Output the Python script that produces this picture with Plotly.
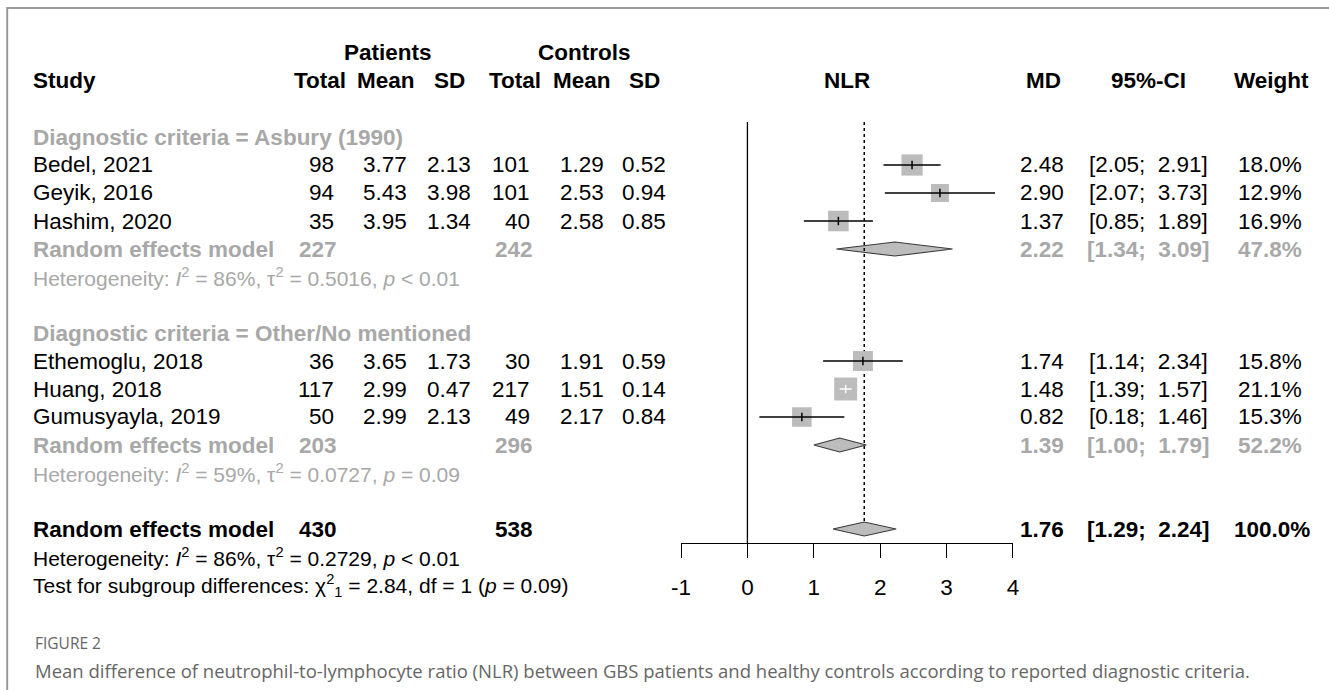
import math
import plotly.graph_objects as go

# ---------------- data ----------------
studies = ["Bedel, 2021", "Geyik, 2016", "Hashim, 2020",
           "Ethemoglu, 2018", "Huang, 2018", "Gumusyayla, 2019"]
study_group = [0, 0, 0, 1, 1, 1]
p_total = [98, 94, 35, 36, 117, 50]
p_mean = [3.77, 5.43, 3.95, 3.65, 2.99, 2.99]
p_sd = [2.13, 3.98, 1.34, 1.73, 0.47, 2.13]
c_total = [101, 101, 40, 30, 217, 49]
c_mean = [1.29, 2.53, 2.58, 1.91, 1.51, 2.17]
c_sd = [0.52, 0.94, 0.85, 0.59, 0.14, 0.84]
md = [2.48, 2.90, 1.37, 1.74, 1.48, 0.82]
ci_low = [2.05, 2.07, 0.85, 1.14, 1.39, 0.18]
ci_high = [2.91, 3.73, 1.89, 2.34, 1.57, 1.46]
weight = [18.0, 12.9, 16.9, 15.8, 21.1, 15.3]

sub_names = ["Asbury (1990)", "Other/No mentioned"]
sub_p_total = [227, 203]
sub_c_total = [242, 296]
sub_md = [2.22, 1.39]
sub_low = [1.34, 1.00]
sub_high = [3.09, 1.79]
sub_weight = [47.8, 52.2]
sub_i2 = [86, 59]
sub_tau2 = ["0.5016", "0.0727"]
sub_p = ["&lt; 0.01", "= 0.09"]

overall_p_total = 430
overall_c_total = 538
overall_md = 1.76
overall_low = 1.29
overall_high = 2.24
overall_weight = 100.0
overall_i2 = 86
overall_tau2 = "0.2729"
overall_p = "&lt; 0.01"
test_chi2 = 2.84
test_df = 1
test_p = "0.09"

tick_vals = [-1, 0, 1, 2, 3, 4]
tick_text = ["-1", "0", "1", "2", "3", "4"]
null_value = 0

# ---------------- layout constants (page pixels) ----------------
W, H = 1329, 690
SX = 1.015                    # horizontal spread correction about the page centre
ROW0, ROWH = 137, 28          # pixel centre of first row, row height
AXIS_Y = 543                  # pixel y of the x axis line
AX_L, AX_R = 679, 1010        # pixel x of -1 and 4
FONT = "Liberation Sans, Arial, Helvetica, sans-serif"
FS = 22.5
GRAY = "#a8a8a8"
BLACK = "#000000"
SQ_COLOR = "#bcbcbc"

col = dict(study=31, pt=335, pm=408, psd=472, ct=530, cm=604, csd=666,
           md=1063, ci=1145, w=1300)
hdr = dict(pt=347, pm=416, psd=466, ct=541, cm=611, csd=660,
           md=1060, ci=1145, w=1307)

y_top = -ROW0 / ROWH
y_bot = (AXIS_Y - ROW0) / ROWH

fig = go.Figure()
ann = []


def pxx(x):
    return (W / 2 + (x - W / 2) * SX) / W


def pxy(y):
    return 1 - y / H


def rowy(k):
    return pxy(ROW0 + ROWH * k)


def text(xp, k, s, anchor="right", color=BLACK, bold=False, size=FS):
    if bold:
        s = "<b>" + s + "</b>"
    ann.append(dict(x=pxx(xp), xref="paper", y=rowy(k), yref="paper", text=s,
                    xanchor=anchor, yanchor="middle", showarrow=False,
                    font=dict(family=FONT, size=size, color=color)))


def ci_str(lo, hi):
    return "[%.2f;&nbsp; %.2f]" % (lo, hi)


# headers
text((hdr["pt"] + hdr["psd"]) / 2 - 20, -3, "Patients", "center", bold=True)
text((hdr["ct"] + hdr["csd"]) / 2 - 18, -3, "Controls", "center", bold=True)
text(col["study"], -2, "Study", "left", bold=True)
for key, lab in [("pt", "Total"), ("pm", "Mean"), ("psd", "SD"),
                 ("ct", "Total"), ("cm", "Mean"), ("csd", "SD"),
                 ("md", "MD"), ("w", "Weight")]:
    text(hdr[key], -2, lab, "right", bold=True)
text(hdr["ci"], -2, "95%-CI", "center", bold=True)
ann.append(dict(x=1.5, xref="x", y=rowy(-2), yref="paper", text="<b>NLR</b>",
                xanchor="center", yanchor="middle", showarrow=False,
                font=dict(family=FONT, size=FS, color=BLACK)))

# rows
row_of_study = []
k = 0
for g in range(len(sub_names)):
    text(col["study"], k, "Diagnostic criteria = " + sub_names[g], "left", GRAY, True)
    k += 1
    for i in range(len(studies)):
        if study_group[i] != g:
            continue
        row_of_study.append((i, k))
        text(col["study"], k, studies[i], "left")
        text(col["pt"], k, str(p_total[i]))
        text(col["pm"], k, "%.2f" % p_mean[i])
        text(col["psd"], k, "%.2f" % p_sd[i])
        text(col["ct"], k, str(c_total[i]))
        text(col["cm"], k, "%.2f" % c_mean[i])
        text(col["csd"], k, "%.2f" % c_sd[i])
        text(col["md"], k, "%.2f" % md[i])
        text(col["ci"], k, ci_str(ci_low[i], ci_high[i]), "center")
        text(col["w"], k, "%.1f%%" % weight[i])
        k += 1
    # subgroup summary
    text(col["study"], k, "Random effects model", "left", GRAY, True)
    text(col["pt"] + 3, k, str(sub_p_total[g]), "right", GRAY, True)
    text(col["ct"] + 3, k, str(sub_c_total[g]), "right", GRAY, True)
    text(col["md"], k, "%.2f" % sub_md[g], "right", GRAY, True)
    text(col["ci"], k, ci_str(sub_low[g], sub_high[g]), "center", GRAY, True)
    text(col["w"], k, "%.1f%%" % sub_weight[g], "right", GRAY, True)
    fig.add_trace(go.Scatter(
        x=[sub_low[g], sub_md[g], sub_high[g], sub_md[g], sub_low[g]],
        y=[k, k - 0.25, k, k + 0.25, k], mode="lines", fill="toself",
        fillcolor=SQ_COLOR, line=dict(color="#3a3a3a", width=1.2),
        hoverinfo="skip", showlegend=False))
    k += 1
    text(col["study"], k,
         "Heterogeneity: <i>I</i><sup>2</sup> = %d%%, τ<sup>2</sup> = %s, <i>p</i> %s"
         % (sub_i2[g], sub_tau2[g], sub_p[g]), "left", GRAY, size=21)
    k += 2

# overall
k_overall = k
text(col["study"], k, "Random effects model", "left", BLACK, True)
text(col["pt"] + 3, k, str(overall_p_total), "right", BLACK, True)
text(col["ct"] + 3, k, str(overall_c_total), "right", BLACK, True)
text(col["md"], k, "%.2f" % overall_md, "right", BLACK, True)
text(col["ci"], k, ci_str(overall_low, overall_high), "center", BLACK, True)
text(col["w"] + 8, k, "%.1f%%" % overall_weight, "right", BLACK, True)
text(col["study"], k + 1,
     "Heterogeneity: <i>I</i><sup>2</sup> = %d%%, τ<sup>2</sup> = %s, <i>p</i> %s"
     % (overall_i2, overall_tau2, overall_p), "left", BLACK, size=21)
text(col["study"], k + 2,
     "Test for subgroup differences: χ<sup>2</sup><sub>%d</sub> = %.2f, df = %d (<i>p</i> = %s)"
     % (test_df, test_chi2, test_df, test_p), "left", BLACK, size=21)

# reference lines
top_k = (122 - ROW0) / ROWH
fig.add_trace(go.Scatter(x=[null_value, null_value], y=[top_k, y_bot], mode="lines",
                         line=dict(color="black", width=1.3),
                         hoverinfo="skip", showlegend=False))
fig.add_trace(go.Scatter(x=[overall_md, overall_md], y=[top_k, k_overall - 0.25],
                         mode="lines", line=dict(color="black", width=1.5, dash="dot"),
                         hoverinfo="skip", showlegend=False))

# overall diamond
fig.add_trace(go.Scatter(
    x=[overall_low, overall_md, overall_high, overall_md, overall_low],
    y=[k_overall, k_overall - 0.25, k_overall, k_overall + 0.25, k_overall],
    mode="lines", fill="toself", fillcolor=SQ_COLOR,
    line=dict(color="#3a3a3a", width=1.2), hoverinfo="skip", showlegend=False))

# study squares and CIs
px_per_unit = (AX_R - AX_L) * SX / (tick_vals[-1] - tick_vals[0])
sq_x = [md[i] for i, r in row_of_study]
sq_y = [r for i, r in row_of_study]
sq_s = [5 * math.sqrt(weight[i]) for i, r in row_of_study]
fig.add_trace(go.Scatter(x=sq_x, y=sq_y, mode="markers",
                         marker=dict(symbol="square", size=sq_s, color=SQ_COLOR,
                                     line=dict(width=0), opacity=1),
                         hoverinfo="skip", showlegend=False))
for i, r in row_of_study:
    half_units = 5 * math.sqrt(weight[i]) / 2 / px_per_unit
    inside = (md[i] - ci_low[i]) < half_units and (ci_high[i] - md[i]) < half_units
    c = "white" if inside else "black"
    fig.add_trace(go.Scatter(x=[ci_low[i], ci_high[i]], y=[r, r], mode="lines",
                             line=dict(color=c, width=1.5),
                             hoverinfo="skip", showlegend=False))
    fig.add_trace(go.Scatter(x=[md[i], md[i]], y=[r - 0.15, r + 0.15], mode="lines",
                             line=dict(color=c, width=1.5),
                             hoverinfo="skip", showlegend=False))

# caption
ann.append(dict(x=pxx(33), xref="paper", y=pxy(643), yref="paper", text="FIGURE 2",
                xanchor="left", yanchor="middle", showarrow=False,
                font=dict(family="Open Sans, Lato, sans-serif", size=15.5, color="#666666")))
ann.append(dict(x=pxx(33), xref="paper", y=pxy(670), yref="paper",
                text="Mean difference of neutrophil-to-lymphocyte ratio (NLR) between GBS patients "
                     "and healthy controls according to reported diagnostic criteria.",
                xanchor="left", yanchor="middle", showarrow=False,
                font=dict(family="Open Sans, Lato, sans-serif", size=18.5, color="#666666")))

fig.update_layout(
    width=W, height=H, margin=dict(l=0, r=0, t=0, b=0),
    paper_bgcolor="white", plot_bgcolor="white",
    xaxis=dict(domain=[pxx(AX_L), pxx(AX_R)], range=[tick_vals[0], tick_vals[-1]],
               tickvals=tick_vals, ticktext=tick_text, showline=True, linecolor="black",
               linewidth=1.3, ticks="outside", ticklen=14, tickwidth=1.3, tickcolor="black",
               showgrid=False, zeroline=False, ticklabelstandoff=10,
               tickfont=dict(family=FONT, size=FS, color="black")),
    yaxis=dict(domain=[pxy(AXIS_Y), 1], range=[y_bot, y_top], visible=False,
               showgrid=False, zeroline=False),
    annotations=ann,
    shapes=[dict(type="rect", xref="paper", yref="paper", x0=pxx(7), x1=1.05,
                 y0=-0.05, y1=1 - 8 / H, line=dict(color="#9a9a9a", width=2),
                 layer="below")],
)

fig.write_html("out.html", config={"displayModeBar": False},
               post_script="document.body.style.margin='0';"
                           "document.body.style.overflow='hidden';")
